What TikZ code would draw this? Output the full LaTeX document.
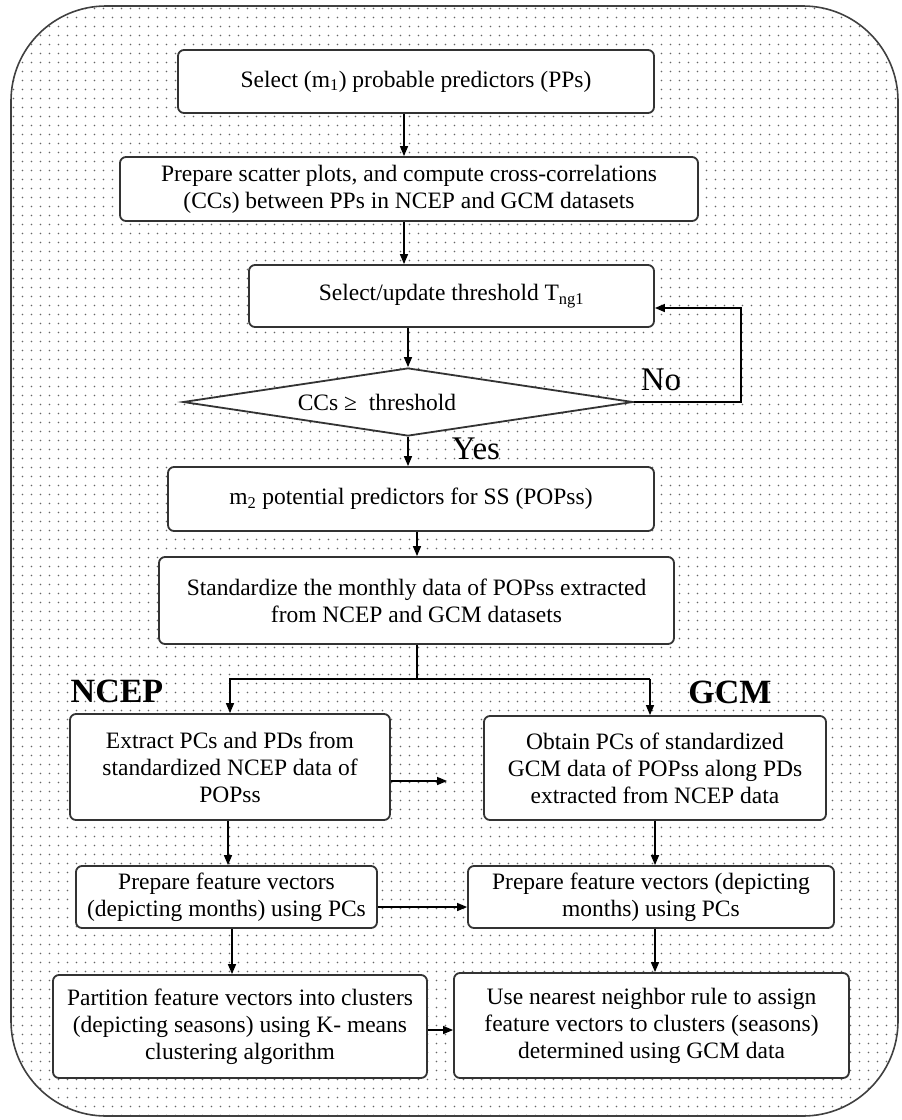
\documentclass[tikz,border=0pt]{standalone}
\usepackage{fontspec}
\setmainfont{Liberation Serif}
\usetikzlibrary{arrows.meta,shapes.geometric,patterns}
\pgfdeclarepatternformonly{bgdots}{\pgfqpoint{-1pt}{-1pt}}{\pgfqpoint{10pt}{10pt}}{\pgfqpoint{9pt}{9pt}}{\pgfpathcircle{\pgfqpoint{4.5pt}{4.5pt}}{0.85pt}\pgfusepath{fill}}
\begin{document}
\begin{tikzpicture}[x=1pt,y=-1pt,
  box/.style={draw=black!80, line width=1.8pt, fill=white, rounded corners=6pt,
    align=center, inner sep=2pt, font=\fontsize{23.5}{27}\selectfont},
  arr/.style={-{Triangle[length=10pt,width=8pt]}, line width=1.4pt},
  ln/.style={line width=1.4pt},
  lbl/.style={font=\fontsize{33}{35}\selectfont, inner sep=0pt},
  hdr/.style={font=\fontsize{34}{36}\selectfont\bfseries, inner sep=0pt}]
\useasboundingbox (0,0) rectangle (902,1120);
\fill[white] (0,0) rectangle (902,1120);
\draw[line width=1.6pt, draw=black!75, rounded corners=95pt, pattern=bgdots, pattern color=black!60] (11,6) rectangle (898,1116);

\node[box, minimum width=476pt, minimum height=63pt] (b1) at (416,81.5) {Select (m\textsubscript{1}) probable predictors (PPs)};
\node[box, minimum width=578pt, minimum height=64pt] (b2) at (409,189) {Prepare scatter plots, and compute cross-correlations\\(CCs) between PPs in NCEP and GCM datasets};
\node[box, minimum width=405pt, minimum height=62pt] (b3) at (451.5,296) {Select/update threshold T\textsubscript{ng1}};
\node[diamond, draw=black!80, line width=1.8pt, fill=white, shape aspect=6.6,
  minimum width=450pt, minimum height=68pt, inner sep=0pt,
  font=\fontsize{23.5}{27}\selectfont] (d) at (408,402) {CCs ≥\ \ threshold\hspace*{62pt}};
\node[box, minimum width=486pt, minimum height=64pt] (b4) at (411,499) {m\textsubscript{2} potential predictors for SS (POPss)};
\node[box, minimum width=515pt, minimum height=87pt] (b5) at (416.5,600.5) {Standardize the monthly data of POPss extracted\\from NCEP and GCM datasets};
\node[box, minimum width=320pt, minimum height=106pt] (l1) at (230,767) {Extract PCs and PDs from\\standardized NCEP data of\\POPss};
\node[box, minimum width=342pt, minimum height=104pt] (r1) at (655,768) {Obtain PCs of standardized\\GCM data of POPss along PDs\\extracted from NCEP data};
\node[box, minimum width=301pt, minimum height=62pt] (l2) at (226.5,897) {Prepare feature vectors\\(depicting months) using PCs};
\node[box, minimum width=366pt, minimum height=62pt] (r2) at (651,897) {Prepare feature vectors (depicting\\months) using PCs};
\node[box, minimum width=374pt, minimum height=103pt] (l3) at (240,1026.5) {Partition feature vectors into clusters\\(depicting seasons) using K- means\\clustering algorithm};
\node[box, minimum width=395pt, minimum height=105pt] (r3) at (651.5,1025.5) {Use nearest neighbor rule to assign\\feature vectors to clusters (seasons)\\determined using GCM data};

\node[lbl] (no) at (661,380) {No};
\node[lbl] (yes) at (476,449) {Yes};
\node[hdr] (ncep) at (117,691) {NCEP};
\node[hdr] (gcm) at (730,692) {GCM};

\coordinate (xa) at (404,0);
\coordinate (xb) at (417,0);
\coordinate (lp) at (741,308);
\coordinate (sp) at (417,679);
\coordinate (xl) at (230,679);
\coordinate (xr) at (650,679);
\coordinate (xl2) at (228,0);
\coordinate (xl3) at (232,0);
\coordinate (xr2) at (655,0);
\coordinate (ya) at (0,781);
\coordinate (yb) at (0,907);
\coordinate (yc) at (0,1030);

\draw[arr] (b1.south -| xa) -- (b2.north -| xa);
\draw[arr] (b2.south -| xa) -- (b3.north -| xa);
\draw[arr] (b3.south -| d.north) -- (d.north);
\draw[arr] (d.east) -| (lp) -- (lp -| b3.east);
\draw[arr] (d.south) -- (b4.north -| d.south);
\draw[arr] (b4.south -| xb) -- (b5.north -| xb);
\draw[ln] (b5.south -| sp) -- (sp);
\draw[arr] (xr) -- (xl) -- (l1.north -| xl);
\draw[arr] (xr) -- (r1.north -| xr);
\draw[arr, shorten >=36pt] (l1.east |- ya) -- (r1.west |- ya);
\draw[arr] (l1.south -| xl2) -- (l2.north -| xl2);
\draw[arr] (r1.south -| xr2) -- (r2.north -| xr2);
\draw[arr] (l2.east |- yb) -- (r2.west |- yb);
\draw[arr] (l2.south -| xl3) -- (l3.north -| xl3);
\draw[arr] (r2.south -| xr2) -- (r3.north -| xr2);
\draw[arr] (l3.east |- yc) -- (r3.west |- yc);
\end{tikzpicture}
\end{document}
